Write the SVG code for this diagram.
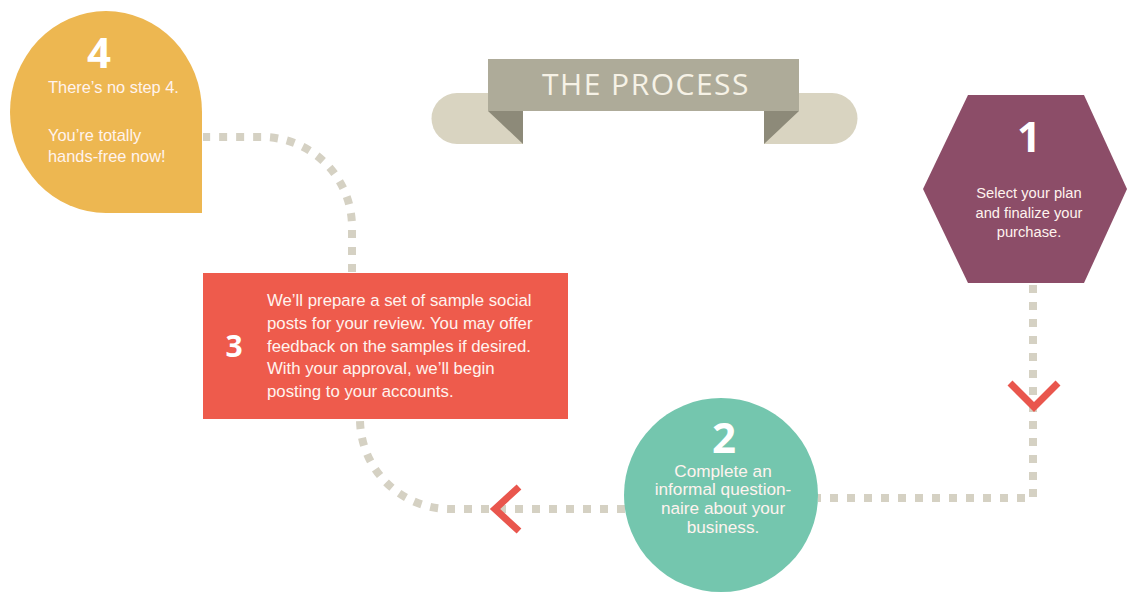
<svg xmlns="http://www.w3.org/2000/svg" width="1127" height="595" viewBox="0 0 1127 595">
  <style>
    .dash { fill: none; stroke: #D5D1C3; stroke-width: 8; stroke-dasharray: 8 9; }
    .chev { fill: none; stroke: #E9564D; stroke-width: 7; stroke-linecap: butt; stroke-linejoin: miter; }
    .num { font-family: "Open Sans", "Liberation Sans", sans-serif; font-weight: 700; fill: #FFFFFF; }
    .txt { font-family: "Liberation Sans", Arial, sans-serif; fill: #FFF3EE; }
    .mid { text-anchor: middle; }
  </style>
  <rect x="0" y="0" width="1127" height="595" fill="#FFFFFF"/>

  <g id="connectors">
    <path class="dash" d="M 1033,285 L 1033,498 L 818,498"/>
    <path class="dash" d="M 625,509 L 450,509 A 90 90 0 0 1 360,419"/>
    <path class="dash" d="M 352,272 L 352,227 A 90 90 0 0 0 262,137 L 203,137"/>
    <polyline class="chev" points="1010,383 1034,407 1058,383"/>
    <polyline class="chev" points="519,487 495,509 519,531"/>
  </g>

  <g id="title">
    <path d="M 457,93 L 523,93 L 523,144 L 457,144 A 25.5 25.5 0 0 1 457,93 Z" fill="#D9D4C1"/>
    <path d="M 764,93 L 832,93 A 25.5 25.5 0 0 1 832,144 L 764,144 Z" fill="#D9D4C1"/>
    <polygon points="488,111 523,111 523,144" fill="#8D8A79"/>
    <polygon points="764,111 799,111 764,144" fill="#8D8A79"/>
    <rect x="488" y="59" width="311" height="52" fill="#AEAB99"/>
    <text x="646" y="95" text-anchor="middle" font-family="'Open Sans', 'Liberation Sans', sans-serif" font-weight="400" font-size="30" letter-spacing="1.5" fill="#F6F2E6">THE PROCESS</text>
  </g>

  <g id="step1">
    <polygon points="923,189 968,95 1084,95 1127,189 1084,283 968,283" fill="#8C4D68"/>
    <text class="num mid" x="1029" y="152" font-size="42">1</text>
    <text class="txt mid" x="1029" y="198" font-size="14.7">Select your plan</text>
    <text class="txt mid" x="1029" y="218" font-size="14.7">and finalize your</text>
    <text class="txt mid" x="1029" y="237" font-size="14.7">purchase.</text>
  </g>

  <g id="step2">
    <circle cx="721" cy="495" r="97" fill="#74C6AE"/>
    <text class="num mid" x="724" y="453" font-size="42">2</text>
    <text class="txt mid" x="723" y="477" font-size="17.2">Complete an</text>
    <text class="txt mid" x="723" y="495" font-size="17.2">informal question-</text>
    <text class="txt mid" x="723" y="514" font-size="17.2">naire about your</text>
    <text class="txt mid" x="723" y="533" font-size="17.2">business.</text>
  </g>

  <g id="step3">
    <rect x="203" y="273" width="365" height="146" fill="#EE5B4C"/>
    <text class="num mid" x="234" y="357" font-size="30">3</text>
    <text class="txt" x="267" y="306" font-size="16.8">We’ll prepare a set of sample social</text>
    <text class="txt" x="267" y="329" font-size="16.8">posts for your review. You may offer</text>
    <text class="txt" x="267" y="352" font-size="16.8">feedback on the samples if desired.</text>
    <text class="txt" x="267" y="374" font-size="16.8">With your approval, we’ll begin</text>
    <text class="txt" x="267" y="397" font-size="16.8">posting to your accounts.</text>
  </g>

  <g id="step4">
    <path d="M 10,112 A 96 101 0 0 1 202,112 L 202,213 L 106,213 A 96 101 0 0 1 10,112 Z" fill="#EDB751"/>
    <text class="num mid" x="99" y="68" font-size="42">4</text>
    <text class="txt" x="48" y="93" font-size="16.4">There’s no step 4.</text>
    <text class="txt" x="48" y="141" font-size="16.4">You’re totally</text>
    <text class="txt" x="48" y="162" font-size="16.4">hands-free now!</text>
  </g>
</svg>
